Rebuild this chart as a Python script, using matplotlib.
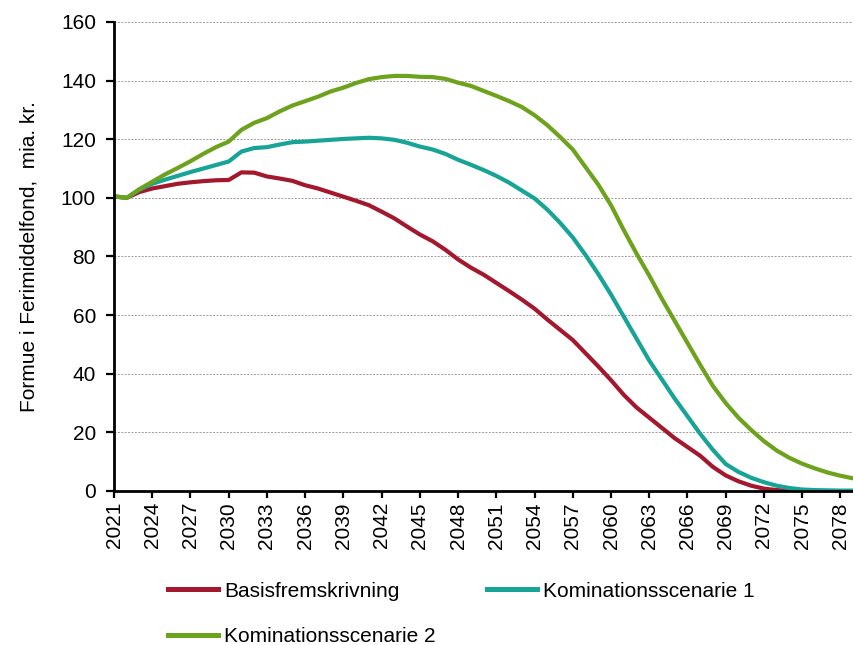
import numpy as np
import matplotlib.pyplot as plt

plt.rcParams['font.family'] = ['Liberation Sans', 'DejaVu Sans']

# ── Data (mia. kr.) ────────────────────────────────────────────────────────────
years = np.arange(2021, 2080)

basis = [100.5, 100.0, 102.0, 103.2, 104.0, 104.8, 105.3, 105.7, 106.0, 106.1,
         108.7, 108.6, 107.3, 106.6, 105.8, 104.3, 103.2, 101.8, 100.4, 99.0,
         97.5, 95.3, 93.0, 90.2, 87.5, 85.2, 82.3, 79.0, 76.2, 73.8,
         71.0, 68.2, 65.3, 62.2, 58.5, 55.0, 51.5, 47.0, 42.5, 37.8,
         32.8, 28.5, 25.0, 21.5, 18.0, 15.0, 12.0, 8.2, 5.3, 3.3,
         1.8, 0.8, 0.3, 0.1, 0.0, 0.0, 0.0, 0.0, 0.0]

komb1 = [100.5, 100.0, 102.8, 104.8, 106.2, 107.5, 108.8, 110.0, 111.2, 112.4,
         115.8, 117.0, 117.3, 118.2, 119.0, 119.2, 119.5, 119.8, 120.1, 120.3,
         120.5, 120.3, 119.8, 118.8, 117.5, 116.5, 115.0, 113.0, 111.3, 109.5,
         107.5, 105.2, 102.5, 99.8, 96.0, 91.5, 86.5, 80.5, 74.0, 67.0,
         59.5, 52.0, 44.5, 38.0, 31.5, 25.5, 19.5, 14.0, 9.2, 6.5,
         4.5, 3.0, 1.8, 1.0, 0.5, 0.3, 0.2, 0.1, 0.1]

komb2 = [100.5, 100.0, 103.0, 105.5, 108.0, 110.2, 112.5, 115.0, 117.3, 119.2,
         123.2, 125.6, 127.2, 129.5, 131.5, 133.0, 134.5, 136.3, 137.6, 139.2,
         140.5, 141.2, 141.6, 141.6, 141.3, 141.2, 140.6, 139.3, 138.2, 136.5,
         134.8, 133.0, 131.0, 128.2, 124.8, 120.8, 116.5, 110.5, 104.5, 97.5,
         89.0, 81.0, 73.5, 65.5, 58.0, 50.5, 43.0, 35.8, 30.0, 25.0,
         20.8, 17.0, 13.8, 11.3, 9.3, 7.7, 6.3, 5.2, 4.3]

labels = ["Basisfremskrivning", "Kominationsscenarie 1", "Kominationsscenarie 2"]
colors = ["#A3182D", "#17A497", "#6DA21C"]

# ── Figure ────────────────────────────────────────────────────────────────────
fig = plt.figure(figsize=(8.54, 6.45), dpi=100)
ax = fig.add_axes([0.1335, 0.2388, 0.8655, 0.7271])

lines = []
for series, lab, col in zip([basis, komb1, komb2], labels, colors):
    ln, = ax.plot(years, series, color=col, linewidth=3.0, label=lab,
                  solid_joinstyle='round', zorder=3)
    lines.append(ln)

ax.set_xlim(2021, 2079)
ax.set_ylim(0, 160)
ax.set_xticks(np.arange(2021, 2079, 3))
ax.set_yticks(np.arange(0, 161, 20))
ax.tick_params(axis='x', labelrotation=90, labelsize=15, length=5, width=1.6, pad=3)
ax.tick_params(axis='y', labelsize=15, length=6, width=1.6, pad=7)

ax.yaxis.grid(True, color='#9a9a9a', linestyle=(0, (2, 1.5)), linewidth=0.7)
ax.set_axisbelow(True)

for side in ['top', 'right']:
    ax.spines[side].set_visible(False)
for side in ['left', 'bottom']:
    ax.spines[side].set_linewidth(2.0)
    ax.spines[side].set_zorder(4)

ax.set_ylabel("Formue i Ferimiddelfond,  mia. kr.", fontsize=15, labelpad=16)

# legend laid out row-wise: Basis, K1 / K2
handles = [lines[0], lines[2], lines[1]]
leg = fig.legend(handles, [h.get_label() for h in handles],
                 loc='upper left', bbox_to_anchor=(0.197, 0.098), ncol=2,
                 frameon=False, fontsize=15, handlelength=2.4, handletextpad=0.3,
                 columnspacing=2.45, labelspacing=1.25, borderpad=0, borderaxespad=0)
for h in leg.legend_handles:
    h.set_linewidth(3.6)

fig.savefig("out.png", dpi=100)
